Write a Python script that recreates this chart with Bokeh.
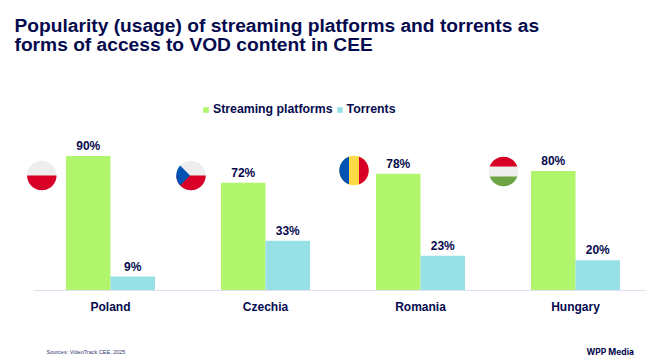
import numpy as np
from bokeh.embed import file_html
from bokeh.resources import INLINE
from bokeh.plotting import figure
from bokeh.models import Range1d, Label, FixedTicker, Legend, LegendItem
from bokeh.core.properties import value

categories = ["Poland", "Czechia", "Romania", "Hungary"]
streaming = [90, 72, 78, 80]
torrents = [9, 33, 23, 20]
series_names = ["Streaming platforms", "Torrents"]
title_lines = ["Popularity (usage) of streaming platforms and torrents as",
               "forms of access to VOD content in CEE"]
source_text = "Sources:  VideoTrack CEE, 2025"
brand_text = "WPP Media"

NAVY = "#050A4E"
GREEN = "#B1F56D"
CYAN = "#97E1E6"
FONT = "Liberation Sans"

W, H = 646, 357
BASE = 289.5        # baseline, px from the top
AX_LEFT = 33        # baseline starts here
GROUP = 155         # px per category
FIRST = 110         # centre of first category, px
PER = 134 / 90      # px per percentage point
xs = np.arange(len(categories), dtype=float)
x_start, x_end = -FIRST / GROUP, (W - FIRST) / GROUP
y_start, y_end = -(H - BASE) / PER, BASE / PER

p = figure(width=W, height=H, output_backend="svg", toolbar_location=None,
           x_range=Range1d(x_start, x_end), y_range=Range1d(y_start, y_end), tools="",
           min_border=0)
p.outline_line_color = None
p.background_fill_color = "white"
p.border_fill_color = "white"
p.grid.visible = False
p.yaxis.visible = False
ax = p.xaxis[0]
ax.fixed_location = 0
ax.bounds = ((AX_LEFT - FIRST) / GROUP, x_end)
ax.ticker = FixedTicker(ticks=list(xs))
ax.major_label_overrides = {float(i): c for i, c in zip(xs, categories)}
ax.major_label_text_font = FONT
ax.major_label_text_font_size = "12px"
ax.major_label_text_font_style = "bold"
ax.major_label_text_color = NAVY
ax.major_label_standoff = 4
ax.major_tick_line_color = None
ax.minor_tick_line_color = None
ax.axis_line_color = "#E2DFF2"
ax.axis_line_width = 1

bw = 44.5 / GROUP
r1 = p.vbar(x=xs - bw / 2, top=streaming, width=bw, bottom=0, fill_color=GREEN, line_color=None)
r2 = p.vbar(x=xs + bw / 2, top=torrents, width=bw, bottom=0, fill_color=CYAN, line_color=None)

lab = dict(text_font=value(FONT), text_font_size={"value": "12px"}, text_font_style="bold",
           text_color=NAVY, text_align="center", text_baseline="bottom", y_offset=-3)
p.text(x=xs - bw / 2, y=streaming, text=[f"{v}%" for v in streaming], **lab)
p.text(x=xs + bw / 2, y=torrents, text=[f"{v}%" for v in torrents], **lab)

legend = Legend(items=[LegendItem(label=series_names[0], renderers=[r1]),
                       LegendItem(label=series_names[1], renderers=[r2])],
                orientation="horizontal", location=(202, H - 116), border_line_color=None,
                background_fill_alpha=0, margin=0, padding=0, spacing=3,
                glyph_width=7, glyph_height=7, label_standoff=4,
                label_text_font=FONT, label_text_font_size="12.3px",
                label_text_font_style="bold", label_text_color=NAVY)
p.add_layout(legend, "center")

# Decorative flags, placed in page pixels and mapped into data space
def to_data(px, py):
    return (np.asarray(px) - FIRST) / GROUP, (BASE - np.asarray(py)) / PER

def clip(poly, a, b, c):
    out = []
    n = len(poly)
    for i in range(n):
        P, Q = poly[i], poly[(i + 1) % n]
        dp, dq = a * P[0] + b * P[1] - c, a * Q[0] + b * Q[1] - c
        if dp <= 0:
            out.append(P)
        if dp * dq < 0:
            t = dp / (dp - dq)
            out.append((P[0] + t * (Q[0] - P[0]), P[1] + t * (Q[1] - P[1])))
    return out

def piece(cx, cy, r, color, planes=()):
    t = np.linspace(0, 2 * np.pi, 121)[:-1]
    poly = [(cx + r * np.cos(a), cy + r * np.sin(a)) for a in t]
    for a, b, c in planes:
        poly = clip(poly, a, b, c)
    x, y = to_data([q[0] for q in poly], [q[1] for q in poly])
    p.patch(x, y, fill_color=color, line_color=None)

R = 14.7
WHITE_F, RED, BLUE, YEL, GRN = "#EEEEEE", "#D80027", "#0052B4", "#FFDA44", "#6DA544"
# Poland
cx, cy = 41.3, 175
piece(cx, cy, R, WHITE_F)
piece(cx, cy, R, RED, [(0, -1, -cy)])
# Czechia
cx, cy = 190.5, 175
piece(cx, cy, R, WHITE_F)
piece(cx, cy, R, RED, [(0, -1, -cy)])
piece(cx, cy, R, BLUE, [(1, 1, cx + cy - 1), (1, -1, cx - cy - 1)])
# Romania
cx, cy = 353.5, 170
piece(cx, cy, R, YEL)
piece(cx, cy, R, BLUE, [(1, 0, cx - 5)])
piece(cx, cy, R, RED, [(-1, 0, -(cx + 5))])
# Hungary
cx, cy = 503, 171
piece(cx, cy, R, WHITE_F)
piece(cx, cy, R, RED, [(0, 1, cy - 5)])
piece(cx, cy, R, GRN, [(0, -1, -(cy + 5))])

# Title, source, brand: screen units measured from the frame's bottom-left corner
for line, top in zip(title_lines, (14.5, 33)):
    p.add_layout(Label(x=14, y=H - top, x_units="screen", y_units="screen", text=line,
                       text_font=FONT, text_font_size="19.2px", text_font_style="bold",
                       text_color=NAVY, text_baseline="top", level="overlay"))
p.add_layout(Label(x=46, y=H - 351, x_units="screen", y_units="screen", text=source_text,
                   text_font=FONT, text_font_size="5.5px", text_color="#333A70",
                   text_baseline="middle", level="overlay"))
p.add_layout(Label(x=586, y=H - 351, x_units="screen", y_units="screen", text=brand_text,
                   text_font="Inter", text_font_size="8.5px", text_font_style="bold", text_color=NAVY,
                   text_baseline="middle", level="overlay"))

open("out.html", "w").write(file_html(p, INLINE))
